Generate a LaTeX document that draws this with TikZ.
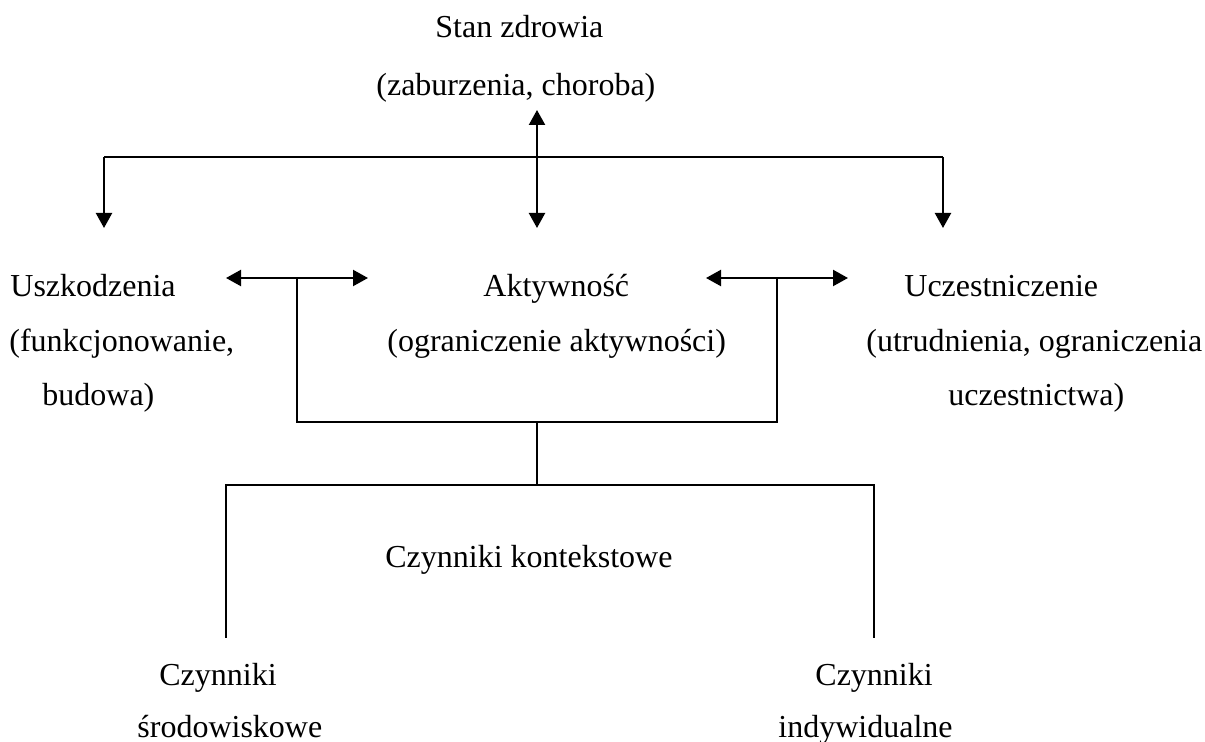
\documentclass[tikz,border=0pt]{standalone}
\usepackage{fontspec}
\setmainfont{Liberation Serif}
\usetikzlibrary{arrows.meta}
\begin{document}
\begin{tikzpicture}[x=0.5pt,y=-0.5pt,
  lbl/.style={inner sep=0pt, anchor=base west, font=\fontsize{16}{19}\selectfont},
  conn/.style={line width=1.1pt},
  headtip/.style={-{Triangle[length=7.5pt,width=8pt]}},
  bothtips/.style={{Triangle[length=7.5pt,width=8pt]}-{Triangle[length=7.5pt,width=8pt]}}]
\useasboundingbox (0,0) rectangle (1205,742);

% labels
\node[lbl] (stan)  at (435,38)  {Stan zdrowia};
\node[lbl] (stan2) at (376,96)  {(zaburzenia, choroba)};
\node[lbl] (usz)   at (10,297)  {Uszkodzenia};
\node[lbl] (usz2)  at (9,352)   {(funkcjonowanie,};
\node[lbl] (usz3)  at (42,406)  {budowa)};
\node[lbl] (akt)   at (483,297) {Aktywność};
\node[lbl] (akt2)  at (387,352) {(ograniczenie aktywności)};
\node[lbl] (ucz)   at (904,297) {Uczestniczenie};
\node[lbl] (ucz2)  at (866,352) {(utrudnienia, ograniczenia};
\node[lbl] (ucz3)  at (948,406) {uczestnictwa)};
\node[lbl] (ctx)   at (385,568) {Czynniki kontekstowe};
\node[lbl] (cl1)   at (159,685) {Czynniki};
\node[lbl] (cl2)   at (137,737) {środowiskowe};
\node[lbl] (cr1)   at (815,685) {Czynniki};
\node[lbl] (cr2)   at (778,737) {indywidualne};

% junction and end points
\coordinate (hTop)  at (537,110);
\coordinate (hMid)  at (537,157);
\coordinate (hBot)  at (537,228);
\coordinate (busL)  at (104,157);
\coordinate (busR)  at (943,157);
\coordinate (tipL)  at (104,228);
\coordinate (tipR)  at (943,228);
\coordinate (aL1)   at (226,278);
\coordinate (aL2)   at (368,278);
\coordinate (sL)    at (297,278);
\coordinate (aR1)   at (706,278);
\coordinate (aR2)   at (848,278);
\coordinate (sR)    at (777,278);
\coordinate (brL)   at (297,422);
\coordinate (brR)   at (777,422);
\coordinate (brM)   at (537,422);
\coordinate (ctxM)  at (537,485);
\coordinate (ctxL)  at (226,485);
\coordinate (ctxR)  at (874,485);
\coordinate (endL)  at (226,638);
\coordinate (endR)  at (874,638);

% health condition links
\draw[conn,bothtips] (hTop) -- (hBot);
\draw[conn] (busL) -- (busR);
\draw[conn,headtip] (busL) -- (tipL);
\draw[conn,headtip] (busR) -- (tipR);

% interactions between components
\draw[conn,bothtips] (aL1) -- (aL2);
\draw[conn,bothtips] (aR1) -- (aR2);
\draw[conn] (sL) -- (brL) -- (brR) -- (sR);

% contextual factors
\draw[conn] (brM) -- (ctxM);
\draw[conn] (endL) -- (ctxL) -- (ctxR) -- (endR);
\end{tikzpicture}
\end{document}
